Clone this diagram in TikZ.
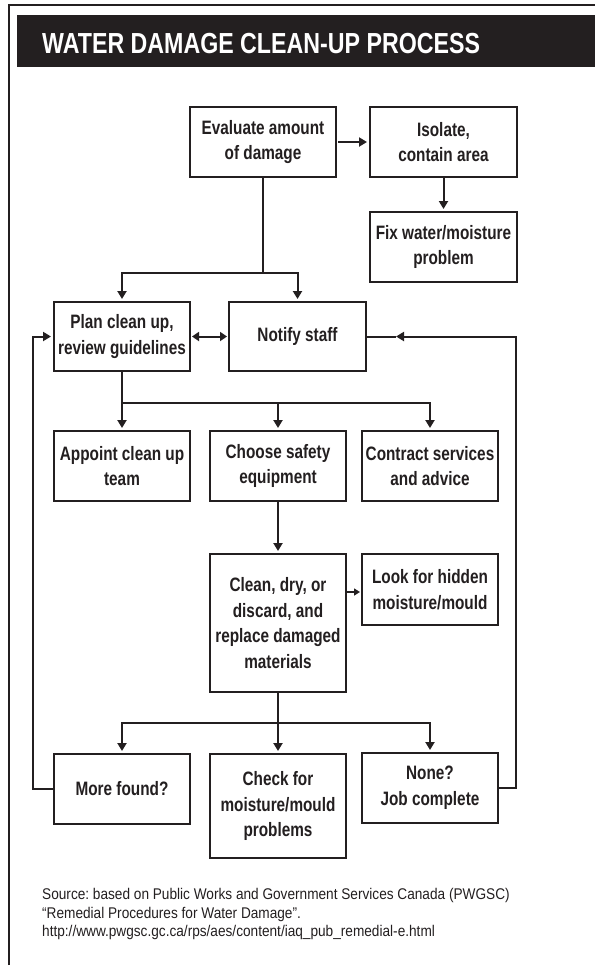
\documentclass[tikz,border=0pt]{standalone}
\usepackage{fontspec}
\usetikzlibrary{arrows.meta,calc}
\newfontfamily\condfont{Liberation Sans}[FakeStretch=0.79]
\newfontfamily\titlefont{Liberation Sans}[FakeStretch=0.8]
\newfontfamily\srcfont{Liberation Sans}[FakeStretch=0.88]
\definecolor{ink}{HTML}{231F20}
\frenchspacing
\tikzset{
  box/.style={draw=ink, line width=2pt, inner sep=0pt, outer sep=0pt, align=center,
    text=ink, font=\condfont\bfseries\fontsize{19.4}{25.7}\selectfont},
  conn/.style={draw=ink, line width=2pt},
  arr/.style={conn, -{Triangle[width=9pt,length=8pt]}, shorten >=3pt},
  srctext/.style={anchor=base west, inner sep=0pt, text=ink, font=\srcfont\fontsize{15.5}{18.5}\selectfont}
}
\begin{document}
\begin{tikzpicture}[x=1pt,y=-1pt]
\useasboundingbox (0,0) rectangle (595,975);
\fill[white] (0,0) rectangle (595,975);
% frame
\draw[ink, line width=1.3pt] (9,965) -- (9,5) -- (595,5);
% title
\fill[ink] (17,15) rectangle (595,67);
\node[anchor=base west, inner sep=0pt, text=white, font=\titlefont\bfseries\fontsize{29}{30}\selectfont] (title) at (42,53.5) {WATER DAMAGE CLEAN-UP PROCESS};

% boxes
\node[box, minimum width=146pt, minimum height=70pt] (eval) at (263,142) {Evaluate amount\\of damage};
\node[box, minimum width=147pt, minimum height=70pt] (iso) at (443.5,142) {Isolate,\\contain area};
\node[box, minimum width=147pt, minimum height=70pt] (fix) at (443.5,247) {Fix water/moisture\\problem};
\node[box, minimum width=136pt, minimum height=69pt] (plan) at (122,336.5) {Plan clean up,\\review guidelines};
\node[box, minimum width=137pt, minimum height=69pt] (notify) at (297.5,336.5) {Notify staff};
\node[box, minimum width=136pt, minimum height=70pt] (appoint) at (122,466) {Appoint clean up\\team};
\node[box, minimum width=136pt, minimum height=70pt] (choose) at (278,466) {Choose safety\\equipment};
\node[box, minimum width=136pt, minimum height=70pt] (contract) at (430,466) {Contract services\\and advice};
\node[box, minimum width=136pt, minimum height=138pt] (clean) at (278,623) {Clean, dry, or\\discard, and\\replace damaged\\materials};
\node[box, minimum width=136pt, minimum height=71pt] (look) at (430,589.5) {Look for hidden\\moisture/mould};
\node[box, minimum width=136pt, minimum height=70pt] (more) at (122,789) {More found?};
\node[box, minimum width=136pt, minimum height=104pt] (check) at (278,806) {Check for\\moisture/mould\\problems};
\node[box, minimum width=136pt, minimum height=70pt] (none) at (430,788) {None?\\Job complete};

% connectors
\draw[arr, shorten <=2pt] (eval.east) -- (iso.west);
\draw[arr] (iso.south) -- (fix.north);
\coordinate (j1) at (eval.south |- 0,273);
\draw[arr] (eval.south) -- (j1) -| (plan.north);
\draw[arr] (j1) -| (notify.north);
\draw[conn, {Triangle[width=9pt,length=7pt]}-{Triangle[width=9pt,length=7pt]}, shorten <=2pt, shorten >=2pt] (plan.east) -- (notify.west);
\coordinate (j2) at (plan.south |- 0,403);
\draw[arr] (plan.south) -- (appoint.north);
\draw[arr] (j2) -| (choose.north);
\draw[arr] (j2) -| (contract.north);
\draw[arr] (choose.south) -- (clean.north);
\draw[conn, -{Triangle[width=7pt,length=6pt]}, shorten >=2pt] (clean.east |- 0,592) -- (look.west |- 0,592);
\coordinate (j3) at (clean.south |- 0,723);
\draw[arr] (clean.south) -- (j3) -| (more.north);
\draw[arr] (j3) -- (check.north);
\draw[arr] (j3) -| (none.north);
% feedback loops
\draw[arr] (more.west) -- ++(-21,0) |- (plan.west);
\coordinate (rc) at ($(notify.east)+(30,0)$);
\draw[conn, -{Triangle[width=9pt,length=8pt]}] (none.east) -- ++(18,0) |- (rc);
\draw[conn] (rc) -- (notify.east);

% source
\node[srctext] (src1) at (42,899) {Source: based on Public Works and Government Services Canada (PWGSC)};
\node[srctext] (src2) at (42,918) {“Remedial Procedures for Water Damage”.};
\node[srctext] (src3) at (42,936) {http://www.pwgsc.gc.ca/rps/aes/content/iaq\_pub\_remedial-e.html};
\end{tikzpicture}
\end{document}
